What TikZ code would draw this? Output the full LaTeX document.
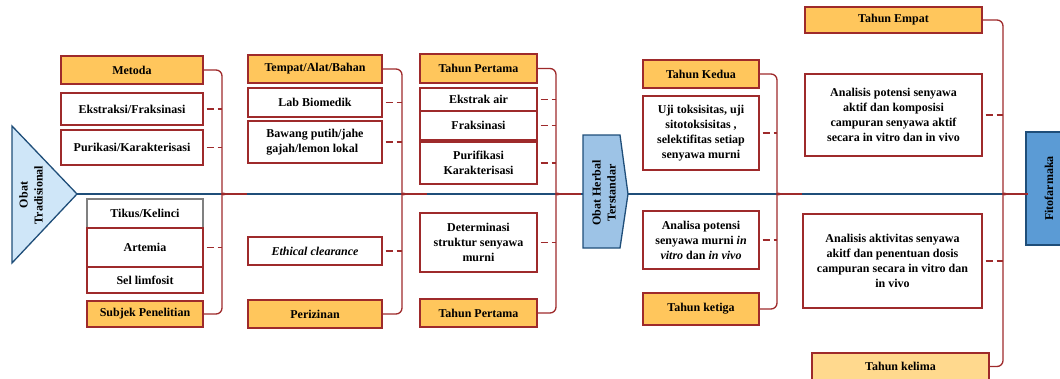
\documentclass[tikz,border=0pt]{standalone}
\usepackage{fontspec}
\setmainfont{Liberation Serif}
\usepackage{graphicx}
\definecolor{boxred}{HTML}{9E2A2B}
\definecolor{hdrfill}{HTML}{FFC65C}
\definecolor{hdrlight}{HTML}{FFD98E}
\definecolor{lnblue}{HTML}{1F4E79}
\definecolor{tradfill}{HTML}{CFE6F8}
\definecolor{herbfill}{HTML}{9DC3E6}
\definecolor{fitofill}{HTML}{5B9BD5}

% brace from a header box down to a footer box, tip on the spine
\newcommand\fishbrace[3]{%
  \draw[bracket] (#1.east) -| ([yshift=6]#3)
    .. controls ([yshift=2]#3) and ([xshift=2]#3) .. ([xshift=6]#3);
  \draw[bracket] (#2.east) -| ([yshift=-6]#3)
    .. controls ([yshift=-2]#3) and ([xshift=2]#3) .. ([xshift=6]#3);
  \draw[redseg] ([xshift=6]#3) -- ([xshift=25]#3);
}

\begin{document}
\begin{tikzpicture}[x=1pt, y=-1pt,
  font=\fontsize{12}{15}\selectfont\bfseries,
  box/.style n args={3}{draw=boxred, line width=1.3pt, fill=#1,
              minimum width=#2, minimum height=#3, inner sep=2pt, align=center},
  bracket/.style={draw=boxred, line width=1.3pt, rounded corners=6},
  dashln/.style={draw=boxred, line width=1.3pt, dash pattern=on 7pt off 4pt,
                 dash phase=8pt},
  redseg/.style={draw=boxred, line width=2pt},
  mainline/.style={draw=lnblue, line width=2pt}
]
  \useasboundingbox (0,0) rectangle (1060,378);
  \clip (0,0) rectangle (1060,378);

  % spine
  \coordinate (tradtip) at (77,194);
  \coordinate (herbin) at (583,194);
  \coordinate (herbtip) at (628,194);
  \coordinate (b1) at (222,194);
  \coordinate (b2) at (402,194);
  \coordinate (b3) at (556,194);
  \coordinate (b4) at (777,194);
  \coordinate (b5) at (1003,194);
  \node[draw=lnblue, line width=1.3pt, fill=fitofill, minimum width=46,
        minimum height=113, inner sep=0pt] (fito) at (1049,188.5)
        {\rotatebox{90}{Fitofarmaka}};
  \draw[mainline] (tradtip) -- (herbin);
  \draw[mainline] (herbtip) -- (herbtip -| fito.west);

  % start and middle stage
  \draw[draw=lnblue, line width=1.3pt, fill=tradfill]
    (12,126) -- (tradtip) -- (12,263) -- cycle;
  \node[rotate=90, align=center] (trad) at (31,195) {Obat\\Tradisional};
  \draw[draw=lnblue, line width=1.3pt, fill=herbfill]
    (583,135) -- (620,135) -- (herbtip) -- (620,248) -- (583,248) -- cycle;
  \node[rotate=90, align=center] (herbal) at (604,193) {Obat Herbal\\Terstandar};

  % Metoda / Subjek Penelitian
  \node[box={hdrfill}{142}{28}] (metoda) at (132,70) {Metoda};
  \node[box={white}{142}{32}] (ekstraksi) at (132,109) {Ekstraksi/Fraksinasi};
  \node[box={white}{142}{35}] (purikasi) at (132,147.5) {Purikasi/Karakterisasi};
  \node[box={white}{116}{29}, draw=gray] (tikus) at (145,213.5) {Tikus/Kelinci};
  \node[box={white}{116}{39}] (artemia) at (145,247.5) {Artemia};
  \node[box={white}{116}{26}] (limfosit) at (145,280) {Sel limfosit};
  \node[box={hdrfill}{116}{26}] (subjek) at (145,314) {Subjek Penelitian};
  \fishbrace{metoda}{subjek}{b1}
  \foreach \n in {ekstraksi,purikasi,artemia}
    \draw[dashln] (\n.east) -- (\n.east -| b1);

  % Tempat/Alat/Bahan / Perizinan
  \node[box={hdrfill}{134}{28}] (tempat) at (315,69) {Tempat/Alat/Bahan};
  \node[box={white}{134}{29}] (lab) at (315,102.5) {Lab Biomedik};
  \node[box={white}{134}{42}, align=left] (bawang) at (315,142)
        {Bawang putih/jahe\\gajah/lemon lokal};
  \node[box={white}{134}{28}] (ethical) at (315,251) {\itshape Ethical clearance};
  \node[box={hdrfill}{134}{28}] (perizinan) at (315,314) {Perizinan};
  \fishbrace{tempat}{perizinan}{b2}
  \foreach \n in {lab,bawang,ethical}
    \draw[dashln] (\n.east) -- (\n.east -| b2);

  % Tahun Pertama
  \node[box={hdrfill}{117}{29}] (thnsatu) at (478.5,68.5) {Tahun Pertama};
  \node[box={white}{117}{23}] (ekstrak) at (478.5,99.5) {Ekstrak air};
  \node[box={white}{117}{29}] (fraksinasi) at (478.5,125.5) {Fraksinasi};
  \node[box={white}{117}{42}] (purifikasi) at (478.5,163) {Purifikasi\\Karakterisasi};
  \node[box={white}{117}{59}] (determinasi) at (478.5,242.5)
        {Determinasi\\struktur senyawa\\murni};
  \node[box={hdrfill}{117}{28}] (thnsatub) at (478.5,313) {Tahun Pertama};
  \fishbrace{thnsatu}{thnsatub}{b3}
  \foreach \n in {ekstrak,fraksinasi,purifikasi,determinasi}
    \draw[dashln] (\n.east) -- (\n.east -| b3);

  % Tahun Kedua / Tahun ketiga
  \node[box={hdrfill}{116}{28}] (kedua) at (701,74) {Tahun Kedua};
  \node[box={white}{116}{74}] (uji) at (701,133)
        {Uji toksisitas, uji\\sitotoksisitas ,\\selektifitas setiap\\senyawa murni};
  \node[box={white}{116}{58}] (analisa) at (701,240)
        {Analisa potensi\\senyawa murni \textit{in}\\\textit{vitro} dan \textit{in vivo}};
  \node[box={hdrfill}{116}{32}] (ketiga) at (701,309) {Tahun ketiga};
  \fishbrace{kedua}{ketiga}{b4}
  \foreach \n in {uji,analisa}
    \draw[dashln] (\n.east) -- (\n.east -| b4);

  % Tahun Empat / Tahun kelima
  \node[box={hdrfill}{177}{26}] (empat) at (893.5,20) {Tahun Empat};
  \node[box={white}{177}{82}] (potensi) at (893.5,115)
        {Analisis potensi senyawa\\aktif dan komposisi\\campuran senyawa aktif\\secara in vitro dan in vivo};
  \node[box={white}{179}{94}] (aktivitas) at (892.5,261)
        {Analisis aktivitas senyawa\\akitf dan penentuan dosis\\campuran secara in vitro dan\\in vivo};
  \node[box={hdrlight}{177}{27}] (kelima) at (900.5,366.5) {Tahun kelima};
  \fishbrace{empat}{kelima}{b5}
  \foreach \n in {potensi,aktivitas}
    \draw[dashln] (\n.east) -- (\n.east -| b5);
\end{tikzpicture}
\end{document}
